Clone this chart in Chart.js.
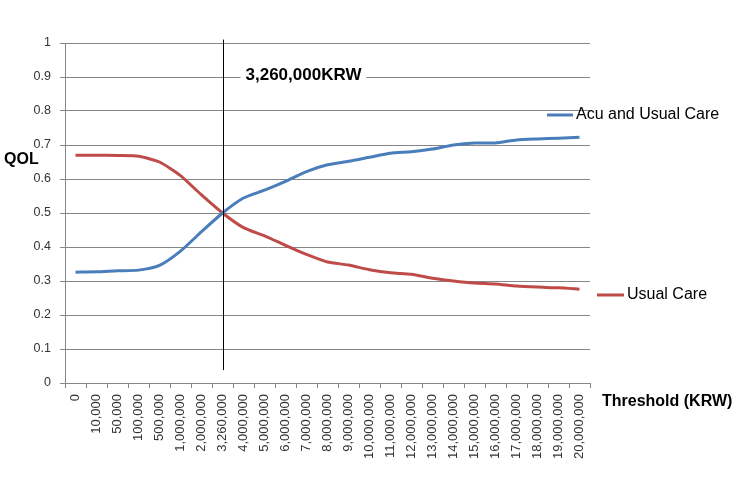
<!DOCTYPE html>
<html lang="en">
<head>
  <meta charset="UTF-8" />
  <title>QOL by Threshold</title>
  <script src="https://cdn.jsdelivr.net/npm/chart.js@4.4.0/dist/chart.umd.min.js"></script>
  <style>
    html, body { margin: 0; padding: 0; background: #fff; }
    #wrap { width: 744px; height: 478px; position: relative; }
  </style>
</head>
<body>
<div id="wrap"><canvas id="qolChart" width="744" height="478"></canvas></div>

<script>
// thresholds (KRW)
const thresholds = ['0', '10,000', '50,000', '100,000', '500,000', '1,000,000', '2,000,000', '3,260,000',
  '4,000,000', '5,000,000', '6,000,000', '7,000,000', '8,000,000', '9,000,000', '10,000,000',
  '11,000,000', '12,000,000', '13,000,000', '14,000,000', '15,000,000', '16,000,000',
  '17,000,000', '18,000,000', '19,000,000', '20,000,000'];

const acuUsual = [0.326, 0.327, 0.330, 0.332, 0.346, 0.388, 0.445, 0.500,
  0.544, 0.567, 0.593, 0.622, 0.642, 0.652, 0.664, 0.676, 0.680, 0.688,
  0.700, 0.706, 0.706, 0.715, 0.718, 0.720, 0.723];

const usualCare = [0.670, 0.670, 0.669, 0.667, 0.650, 0.610, 0.553, 0.500,
  0.457, 0.433, 0.405, 0.378, 0.356, 0.347, 0.333, 0.324, 0.320, 0.308,
  0.300, 0.294, 0.291, 0.285, 0.282, 0.280, 0.276];

const yTicks = [0, 0.1, 0.2, 0.3, 0.4, 0.5, 0.6, 0.7, 0.8, 0.9, 1];

const markerIndex = 7;
const markerText = '3,260,000KRW';

const BLUE = '#4a7ebb';
const RED = '#be4b48';
const FONT = '"Liberation Sans", Arial, sans-serif';

const extras = {
  id: 'extras',
  afterDatasetsDraw(chart) {
    const { ctx, scales: { x, y } } = chart;
    ctx.save();

    // vertical threshold line
    const lx = Math.round(x.getPixelForValue(markerIndex)) + 0.5;
    ctx.strokeStyle = '#000';
    ctx.lineWidth = 1;
    ctx.beginPath();
    ctx.moveTo(lx, y.getPixelForValue(1.01));
    ctx.lineTo(lx, y.getPixelForValue(0.038));
    ctx.stroke();

    // threshold annotation
    ctx.font = 'bold 17px ' + FONT;
    ctx.textBaseline = 'middle';
    const tw = ctx.measureText(markerText).width;
    ctx.fillStyle = '#fff';
    ctx.fillRect(lx + 17, 63, tw + 10, 24);
    ctx.fillStyle = '#000';
    ctx.fillText(markerText, lx + 22, 75);

    // axis titles
    ctx.font = 'bold 16px ' + FONT;
    ctx.fillText('QOL', 4, 160);
    ctx.fillText('Threshold (KRW)', 602, 402);

    // series labels next to line ends
    ctx.font = '16px ' + FONT;
    ctx.lineWidth = 3;
    ctx.strokeStyle = BLUE;
    ctx.beginPath(); ctx.moveTo(547, 115); ctx.lineTo(573, 115); ctx.stroke();
    ctx.fillStyle = '#000';
    ctx.fillText('Acu and Usual Care', 576, 115);
    ctx.strokeStyle = RED;
    ctx.beginPath(); ctx.moveTo(597, 295); ctx.lineTo(624, 295); ctx.stroke();
    ctx.fillText('Usual Care', 627, 295);

    ctx.restore();
  }
};

new Chart(document.getElementById('qolChart').getContext('2d'), {
  type: 'line',
  data: {
    labels: thresholds,
    datasets: [
      { label: 'Acu and Usual Care', data: acuUsual, borderColor: BLUE, borderWidth: 3, pointRadius: 0, tension: 0.2 },
      { label: 'Usual Care', data: usualCare, borderColor: RED, borderWidth: 3, pointRadius: 0, tension: 0.2 }
    ]
  },
  options: {
    responsive: false,
    animation: false,
    layout: { padding: { left: 0, right: 154, top: 43, bottom: 0 } },
    plugins: { legend: { display: false }, tooltip: { enabled: false } },
    scales: {
      x: {
        offset: true,
        afterFit: s => { s.height = 95; },
        grid: { offset: true, drawOnChartArea: false, drawTicks: true, tickLength: 5, color: '#868686' },
        border: { color: '#868686' },
        ticks: {
          autoSkip: false, maxRotation: 90, minRotation: 90, padding: 6,
          color: '#333', font: { family: FONT, size: 13 }
        }
      },
      y: {
        min: 0, max: 1,
        afterFit: s => { s.width = 65; },
        afterBuildTicks: s => { s.ticks = yTicks.map(v => ({ value: v })); },
        grid: { color: '#868686', tickLength: 5 },
        border: { color: '#868686' },
        ticks: {
          padding: 9, color: '#333',
          font: { family: FONT, size: 12.5 },
          callback: v => String(v)
        }
      }
    }
  },
  plugins: [extras]
});
</script>
</body>
</html>
